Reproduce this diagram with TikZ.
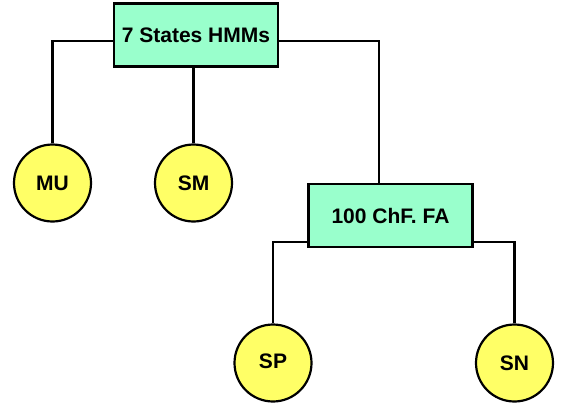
\documentclass[tikz,border=0pt]{standalone}
\usepackage{fontspec}
\setmainfont{Liberation Sans}
\definecolor{boxfill}{HTML}{99FFCC}
\definecolor{circfill}{HTML}{FFFF66}
\begin{document}
\begin{tikzpicture}[x=1pt,y=-1pt,
  every node/.style={font=\fontsize{21}{25}\selectfont\bfseries, text=black, inner sep=0pt},
  hbox/.style={draw=black, line width=2.2pt, fill=boxfill, rectangle, minimum width=#1, minimum height=63pt},
  leaf/.style={draw=black, line width=2.2pt, fill=circfill, circle, minimum size=77pt},
  conn/.style={draw=black, line width=2.2pt}]
\useasboundingbox (0,0) rectangle (562,405);
\node[hbox=164pt] (top) at (196,35) {7 States HMMs};
\node[hbox=164pt] (fa) at (390.5,215.5) {100 ChF. FA};
\node[leaf] (mu) at (52.5,183) {\raisebox{-3pt}{MU}};
\node[leaf] (sm) at (193.5,183) {\raisebox{-3pt}{SM}};
\node[leaf] (sp) at (273,363) {\raisebox{3pt}{SP}};
\node[leaf] (sn) at (514.5,363) {\raisebox{-4pt}{SN}};
\draw[conn] ([yshift=-6pt]top.west) -| (mu.north);
\draw[conn] (sm.north |- top.south) -- (sm.north);
\draw[conn] ([yshift=-6pt]top.east) -| ([xshift=-11.5pt]fa.north);
\draw[conn] ([yshift=-26.5pt]fa.west) -| (sp.north);
\draw[conn] ([yshift=-26.5pt]fa.east) -| (sn.north);
\end{tikzpicture}
\end{document}
